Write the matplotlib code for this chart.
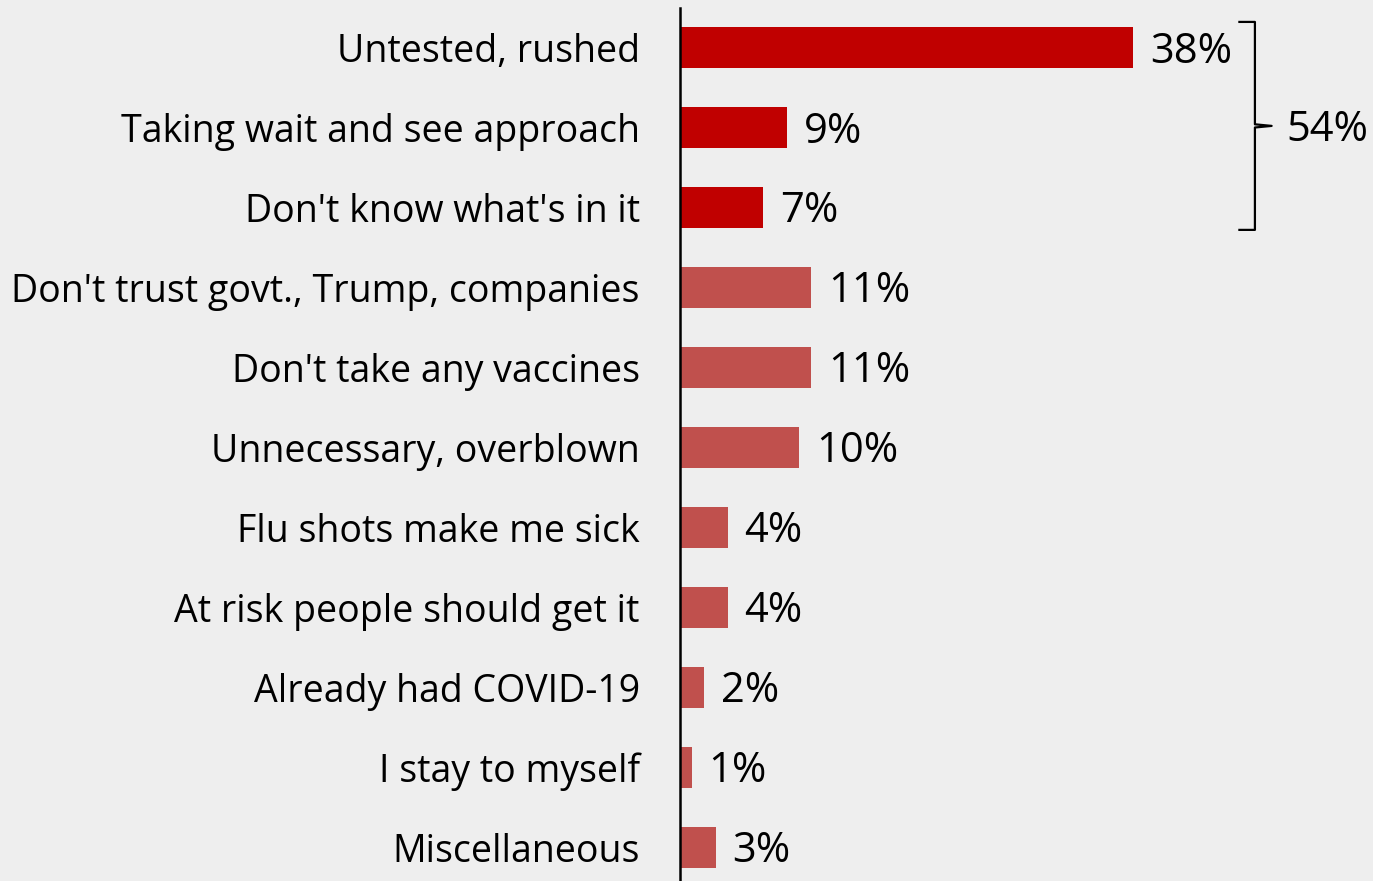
import matplotlib.pyplot as plt
from matplotlib.lines import Line2D

plt.rcParams['font.family'] = ['Open Sans', 'DejaVu Sans']

# data
categories = [
    "Untested, rushed",
    "Taking wait and see approach",
    "Don't know what's in it",
    "Don't trust govt., Trump, companies",
    "Don't take any vaccines",
    "Unnecessary, overblown",
    "Flu shots make me sick",
    "At risk people should get it",
    "Already had COVID-19",
    "I stay to myself",
    "Miscellaneous",
]
values = [38, 9, 7, 11, 11, 10, 4, 4, 2, 1, 3]
grouped = 3  # first three bars are bracketed
group_label = "54%"

bg = '#eeeeee'
dark_red = '#c00000'
light_red = '#c0504d'

fig = plt.figure(figsize=(13.73, 8.81), dpi=100, facecolor=bg)
ax = fig.add_axes([680 / 1373, 0, 1 - 680 / 1373, 1 - 8 / 881])
ax.set_facecolor(bg)

ypos = list(range(len(categories)))
colors = [dark_red if i < grouped else light_red for i in ypos]
ax.barh(ypos, values, height=0.51, color=colors)

# value labels, digits centred on the bar
for y, v in zip(ypos, values):
    ax.annotate(f"{v}%", xy=(v, y), xytext=(12, -10.8), textcoords='offset points',
                ha='left', va='baseline', fontsize=30)

ax.set_xlim(0, 58.1)
ax.set_ylim(10.42, -0.494)
ax.set_yticks(ypos)
ax.set_yticklabels(categories, fontsize=27)
ax.tick_params(axis='y', length=0, pad=29)
ax.set_xticks([])
for s in ['top', 'right', 'bottom']:
    ax.spines[s].set_visible(False)
ax.spines['left'].set_linewidth(1.8)

# bracket around the first three bars
x0, x1, x2 = 46.9, 48.2, 49.6
ytop, ybot = -0.32, 2.28
ymid = (ytop + ybot) / 2
bx = [x0, x1, x1, x2, x1, x1, x0]
by = [ytop, ytop, ymid - 0.02, ymid, ymid + 0.02, ybot, ybot]
ax.add_line(Line2D(bx, by, color='black', lw=1.6, clip_on=False))
ax.annotate(group_label, xy=(50.8, ymid), xytext=(0, -10.8), textcoords='offset points',
            ha='left', va='baseline', fontsize=30)

fig.savefig('out.png', dpi=100, facecolor=bg)
